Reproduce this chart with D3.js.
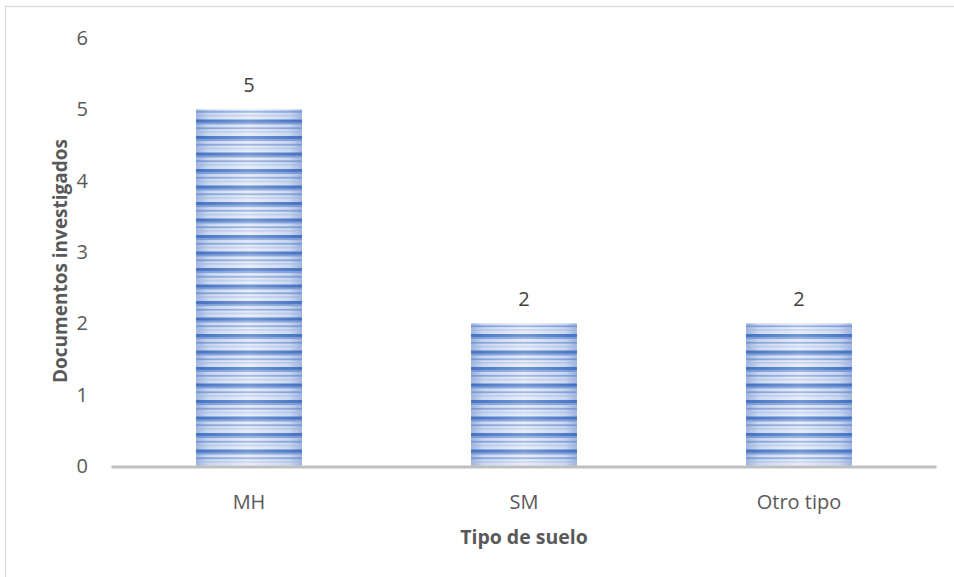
<!DOCTYPE html>
<html>
<head>
<meta charset="utf-8">
<script src="https://cdn.jsdelivr.net/npm/d3@7"></script>
<style>
	body { margin: 0; background: #fff; }
	text { font-family: "Open Sans", "Liberation Sans", sans-serif; }
</style>
</head>
<body>
<div id="chart"></div>
<script>
var categories = ["MH", "SM", "Otro tipo"];
var values = [5, 2, 2];
var yTicks = [0, 1, 2, 3, 4, 5, 6];
var xTitle = "Tipo de suelo";
var yTitle = "Documentos investigados";

(function () {
	var width = 954, height = 577;
	var plot = { left: 111.5, right: 936.5, top: 38, bottom: 466 };

	var svg = d3.select("#chart").append("svg")
		.attr("width", width)
		.attr("height", height);

	// chart area border
	svg.append("rect")
		.attr("x", 5.5).attr("y", 6.5)
		.attr("width", width + 10).attr("height", height + 10)
		.attr("fill", "#fff")
		.attr("stroke", "#d9d9d9")
		.attr("stroke-width", 1.2);

	var defs = svg.append("defs");

	// light horizontal gradient under the stripes
	var grad = defs.append("linearGradient").attr("id", "barGrad")
		.attr("x1", "0%").attr("x2", "100%").attr("y1", "0%").attr("y2", "0%");
	grad.append("stop").attr("offset", "0%").attr("stop-color", "#9fb4dc");
	grad.append("stop").attr("offset", "12%").attr("stop-color", "#c9d6ef");
	grad.append("stop").attr("offset", "50%").attr("stop-color", "#e1e8f6");
	grad.append("stop").attr("offset", "88%").attr("stop-color", "#c9d6ef");
	grad.append("stop").attr("offset", "100%").attr("stop-color", "#9fb4dc");

	// stripes
	var pat = defs.append("pattern").attr("id", "stripes")
		.attr("patternUnits", "userSpaceOnUse")
		.attr("width", 10).attr("height", 16.5)
		.attr("y", plot.bottom);
	pat.append("rect").attr("x", 0).attr("y", 0).attr("width", 10).attr("height", 3)
		.attr("fill", "#4472c4");
	pat.append("rect").attr("x", 0).attr("y", 3).attr("width", 10).attr("height", 2)
		.attr("fill", "#7396d6");
	pat.append("rect").attr("x", 0).attr("y", 8).attr("width", 10).attr("height", 1.5)
		.attr("fill", "#6a8fd2");
	pat.append("rect").attr("x", 0).attr("y", 12).attr("width", 10).attr("height", 1)
		.attr("fill", "#9db4e2");

	// soft white sheen in the middle
	var sheen = defs.append("linearGradient").attr("id", "sheen")
		.attr("x1", "0%").attr("x2", "100%").attr("y1", "0%").attr("y2", "0%");
	sheen.append("stop").attr("offset", "0%").attr("stop-color", "#fff").attr("stop-opacity", 0);
	sheen.append("stop").attr("offset", "50%").attr("stop-color", "#fff").attr("stop-opacity", 0.25);
	sheen.append("stop").attr("offset", "100%").attr("stop-color", "#fff").attr("stop-opacity", 0);

	var x = d3.scaleBand()
		.domain(categories)
		.range([plot.left, plot.right])
		.paddingInner(0.615)
		.paddingOuter(0.3075);

	var y = d3.scaleLinear()
		.domain([0, 6])
		.range([plot.bottom, plot.top]);

	// y tick labels
	svg.append("g").selectAll("text")
		.data(yTicks)
		.enter().append("text")
		.attr("x", 88)
		.attr("y", function (d) { return y(d); })
		.attr("dy", "0.35em")
		.attr("text-anchor", "end")
		.attr("fill", "#595959")
		.style("font-size", "20px")
		.text(function (d) { return d; });

	var data = categories.map(function (c, i) { return { cat: c, value: values[i] }; });

	var bars = svg.append("g");
	["url(#barGrad)", "url(#stripes)", "url(#sheen)"].forEach(function (fill) {
		bars.append("g").selectAll("rect")
			.data(data)
			.enter().append("rect")
			.attr("x", function (d) { return x(d.cat); })
			.attr("y", function (d) { return y(d.value); })
			.attr("width", x.bandwidth())
			.attr("height", function (d) { return y(0) - y(d.value); })
			.attr("fill", fill);
	});

	// value labels
	svg.append("g").selectAll("text")
		.data(data)
		.enter().append("text")
		.attr("x", function (d) { return x(d.cat) + x.bandwidth() / 2; })
		.attr("y", function (d) { return y(d.value) - 24; })
		.attr("dy", "0.35em")
		.attr("text-anchor", "middle")
		.attr("fill", "#404040")
		.style("font-size", "20px")
		.text(function (d) { return d.value; });

	// x axis line
	svg.append("line")
		.attr("x1", plot.left).attr("x2", plot.right)
		.attr("y1", plot.bottom + 1).attr("y2", plot.bottom + 1)
		.attr("stroke", "#c0c0c0")
		.attr("stroke-width", 3);

	// x labels
	svg.append("g").selectAll("text")
		.data(categories)
		.enter().append("text")
		.attr("x", function (d) { return x(d) + x.bandwidth() / 2; })
		.attr("y", 502)
		.attr("dy", "0.35em")
		.attr("text-anchor", "middle")
		.attr("fill", "#595959")
		.style("font-size", "20px")
		.text(function (d) { return d; });

	// axis titles
	svg.append("text")
		.attr("x", (plot.left + plot.right) / 2)
		.attr("y", 537)
		.attr("dy", "0.35em")
		.attr("text-anchor", "middle")
		.attr("fill", "#595959")
		.style("font-size", "19.5px")
		.style("font-weight", "bold")
		.text(xTitle);

	svg.append("text")
		.attr("transform", "translate(60," + 261 + ") rotate(-90)")
		.attr("dy", "0.35em")
		.attr("text-anchor", "middle")
		.attr("fill", "#595959")
		.style("font-size", "19px")
		.style("font-weight", "bold")
		.text(yTitle);
})();
</script>
</body>
</html>
